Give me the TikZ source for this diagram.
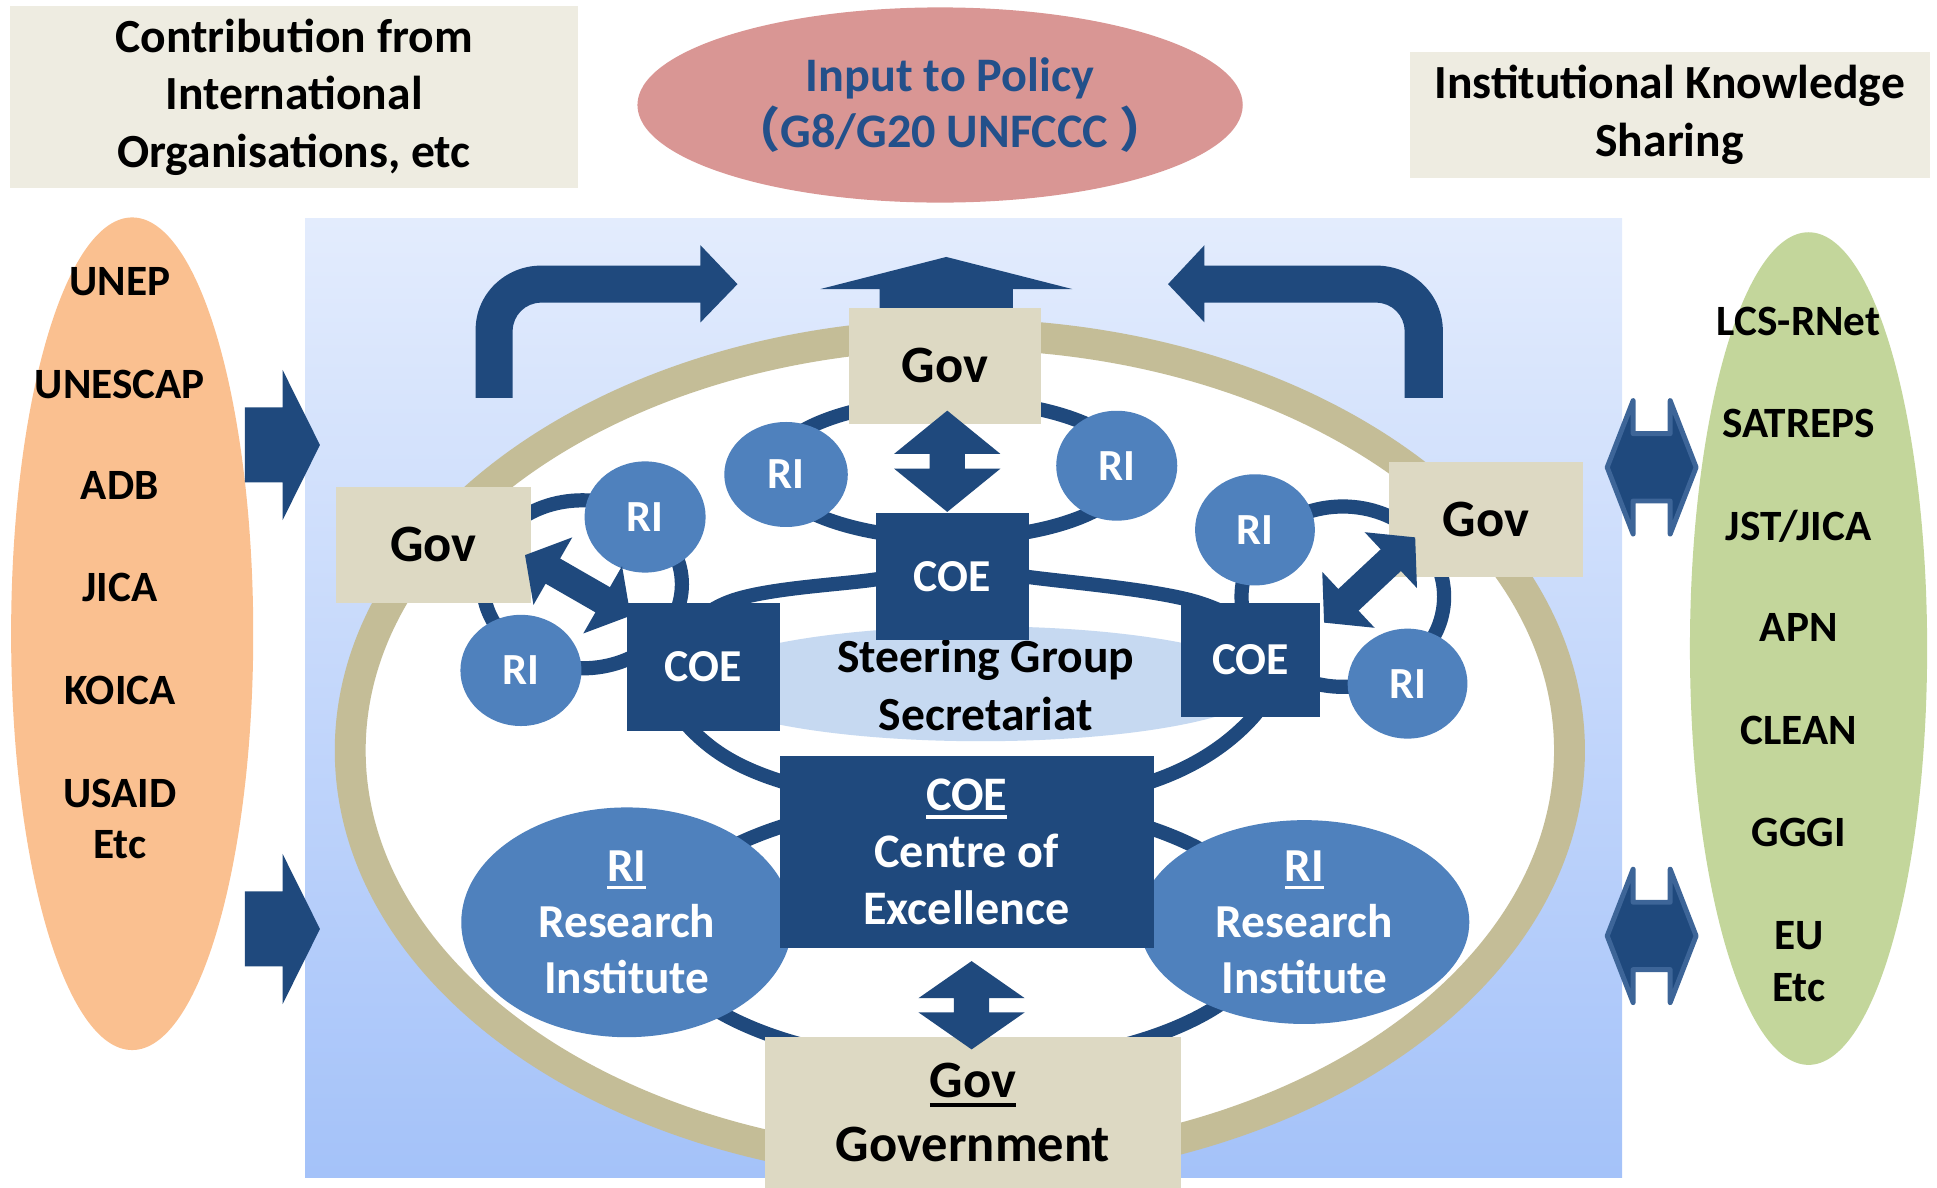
\documentclass[tikz,border=0pt]{standalone}
\usepackage{fontspec}
\setmainfont{Carlito}
\newfontfamily\cjkfont{Noto Sans CJK SC}
\usetikzlibrary{shapes.geometric}
\definecolor{dkblue}{HTML}{1F497D}
\definecolor{riblue}{HTML}{4F81BD}
\definecolor{govbeige}{HTML}{DDD9C3}
\definecolor{lblbox}{HTML}{EEECE1}
\definecolor{tanring}{HTML}{C4BD97}
\definecolor{orangeell}{HTML}{FAC090}
\definecolor{greenell}{HTML}{C3D69B}
\definecolor{pinkell}{HTML}{D99694}
\definecolor{steerblue}{HTML}{C6D9F1}
\definecolor{policyblue}{HTML}{23508A}
\definecolor{gradtop}{HTML}{E3ECFD}
\definecolor{gradbot}{HTML}{A4C2F9}
\definecolor{arrowedge}{HTML}{3D6598}
\newcommand{\ulx}[1]{\setbox0\hbox{#1}\rlap{\rule[-0.17em]{\wd0}{0.075em}}\box0}
% \dblarrow[opts]{cx}{cy}{angle}{L}{head length}{head width}{shaft width}
\newcommand{\dblarrow}[8][]{%
  \begin{scope}[shift={(#2,#3)},rotate=#4]
    \fill[#1] ({-#5/2},0) -- ({-#5/2+#6},{#7/2}) -- ({-#5/2+#6},{#8/2}) -- ({#5/2-#6},{#8/2})
      -- ({#5/2-#6},{#7/2}) -- ({#5/2},0) -- ({#5/2-#6},{-#7/2}) -- ({#5/2-#6},{-#8/2})
      -- ({-#5/2+#6},{-#8/2}) -- ({-#5/2+#6},{-#7/2}) -- cycle;
  \end{scope}}
\begin{document}
\begin{tikzpicture}[x=1pt,y=-1pt,
  txt/.style={font={\bfseries\fontsize{38.5}{46.5}\selectfont}, align=center, inner sep=0pt},
  lblboxs/.style={txt, fill=lblbox},
  govbox/.style={txt, fill=govbeige, font={\bfseries\fontsize{42.5}{52}\selectfont}},
  coebox/.style={txt, fill=dkblue, text=white, font={\bfseries\fontsize{37}{46}\selectfont}},
  riell/.style={txt, ellipse, fill=riblue, text=white, font={\bfseries\fontsize{36}{46}\selectfont}},
  bigri/.style={riell, font={\bfseries\fontsize{38.3}{45.5}\selectfont}},
  sidelbl/.style={txt, anchor=base, font={\bfseries\fontsize{35}{42}\selectfont}},
  ringline/.style={draw=dkblue, line width=11.5pt},
  blockfill/.style={fill=dkblue},
  outlined/.style={fill=dkblue, draw=arrowedge, line width=4pt, line join=round}]
\useasboundingbox (0,0) rectangle (1568,961);

% --- top labels
\node[lblboxs, minimum width=460, minimum height=147] (contrib) at (238,78.5)
  {Contribution from\\International\\Organisations, etc};
\node[ellipse, fill=pinkell, minimum width=490, minimum height=158, inner sep=0pt] (policy) at (761,85) {};
\node[txt, text=policyblue, font={\bfseries\fontsize{39}{46}\selectfont}] (policytxt) at (769,85)
  {Input to Policy\\{\cjkfont （}G8/G20 UNFCCC {\cjkfont ）}};
\node[lblboxs, minimum width=421, minimum height=102] (iks) at (1351.5,93)
  {Institutional Knowledge\\Sharing};

% --- side ellipses
\node[ellipse, fill=orangeell, minimum width=196, minimum height=674, inner sep=0pt] (orgs) at (107,513) {};
\node[ellipse, fill=greenell, minimum width=192, minimum height=674, inner sep=0pt] (nets) at (1464,525) {};
\node[sidelbl] (o1) at (97,239.3) {UNEP};
\node[sidelbl] (o2) at (97,322.3) {UNESCAP};
\node[sidelbl] (o3) at (97,404.3) {ADB};
\node[sidelbl] (o4) at (97,487.3) {JICA};
\node[sidelbl] (o5) at (97,570.3) {KOICA};
\node[sidelbl] (o6) at (97,653.3) {USAID};
\node[sidelbl] (o7) at (97,695.3) {Etc};
\node[sidelbl] (n1) at (1456,271.3) {LCS-RNet};
\node[sidelbl] (n2) at (1456,354.3) {SATREPS};
\node[sidelbl] (n3) at (1456,437.3) {JST/JICA};
\node[sidelbl] (n4) at (1456,519.3) {APN};
\node[sidelbl] (n5) at (1456,602.3) {CLEAN};
\node[sidelbl] (n6) at (1456,685.3) {GGGI};
\node[sidelbl] (n7) at (1456,768.3) {EU};
\node[sidelbl] (n8) at (1456,810.3) {Etc};

% --- central panel
\shade[top color=gradtop, bottom color=gradbot] (247,177) rectangle (1313,953);

% left inflow arrows
\fill[blockfill] (198.3,329.7) -- (228.8,329.7) -- (228.8,299.5) -- (259,360.2) -- (228.8,421) -- (228.8,390.4) -- (198.3,390.4) -- cycle;
\fill[blockfill] (198.3,721.5) -- (228.8,721.5) -- (228.8,691.3) -- (259,752) -- (228.8,812.8) -- (228.8,782.2) -- (198.3,782.2) -- cycle;
% right exchange arrows
\dblarrow[outlined]{1337}{378.3}{0}{72}{21}{108}{54.5}
\dblarrow[outlined]{1337}{757.6}{0}{72}{21}{108}{54.5}

% bent arrows and upward arrow
\fill[blockfill] (385,322) -- (385,267) .. controls (385,238) and (409,215) .. (438,215) -- (567,215) -- (567,198.5)
  -- (597,230) -- (567,261) -- (567,245) -- (438,245) .. controls (425.3,245) and (415,255.3) .. (415,268) -- (415,322) -- cycle;
\fill[blockfill] (1168,322) -- (1168,268) .. controls (1168,238.6) and (1144,215) .. (1114,215) -- (975,215) -- (975,198.5)
  -- (945.5,230) -- (975,261) -- (975,245) -- (1114,245) .. controls (1126.7,245) and (1137,255.3) .. (1137,268) -- (1137,322) -- cycle;
\fill[blockfill] (712,256) -- (712,234) -- (664,234) -- (766,208) -- (868,234) -- (820,234) -- (820,256) -- cycle;

% tan ring
\filldraw[fill=white, draw=tanring, line width=25pt] (777,607.5) ellipse [x radius=493.5pt, y radius=337pt];

% steering ellipse
\node[ellipse, fill=steerblue, minimum width=464, minimum height=93, inner sep=0pt] (steer) at (794,553.5) {};

% dark blue loops
\draw[ringline] (770,380) ellipse [x radius=145pt, y radius=56pt];
\draw[ringline] (471.5,473) ellipse [x radius=80.5pt, y radius=68pt];
\draw[ringline] (1087,483) ellipse [x radius=82pt, y radius=73pt];
\draw[ringline] plot[smooth cycle, tension=0.6] coordinates {(770,461) (832,467) (971,488) (1028,530) (1013,582) (934,632) (782,662) (631,632) (560,591) (540,540) (588,488) (709,469)};
\draw[ringline] (780,755) ellipse [x radius=247pt, y radius=107pt];

\node[txt] (steertxt) at (798,554.5) {Steering Group\\Secretariat};

% RI circles
\node[riell, minimum width=100, minimum height=85] (riTL) at (636.3,384.1) {RI};
\node[riell, minimum width=98, minimum height=89] (riTR) at (904,377) {RI};
\node[riell, minimum width=98, minimum height=90] (riLU) at (522.2,418.5) {RI};
\node[riell, minimum width=98, minimum height=90] (riLL) at (421.7,542.7) {RI};
\node[riell, minimum width=97, minimum height=90] (riRU) at (1015.9,428.9) {RI};
\node[riell, minimum width=97, minimum height=89] (riRL) at (1139.4,553.4) {RI};
\node[bigri, minimum width=268, minimum height=186] (riBL) at (507.4,746.6) {\ulx{RI}\\Research\\Institute};
\node[bigri, minimum width=267, minimum height=165] (riBR) at (1055.9,746.4) {\ulx{RI}\\Research\\Institute};

% COE boxes
\node[coebox, minimum width=123.6, minimum height=103] (coeT) at (770.8,466.5) {COE};
\node[coebox, minimum width=123.5, minimum height=103.5] (coeL) at (569.3,539.8) {COE};
\node[coebox, minimum width=112.6, minimum height=92.5] (coeR) at (1012.3,534.3) {COE};
\node[coebox, minimum width=303, minimum height=155, font={\bfseries\fontsize{39}{46}\selectfont}] (coeB) at (782.5,689.5) {\ulx{COE}\\Centre of\\Excellence};

% Gov boxes
\node[govbox, minimum width=156, minimum height=93.7] (govT) at (765,296.2) {Gov};
\node[govbox, minimum width=158, minimum height=94] (govL) at (350.8,441) {Gov};
\node[govbox, minimum width=157, minimum height=93] (govR) at (1202.7,420.7) {Gov};
\node[govbox, minimum width=337, minimum height=122.5] (govB) at (787.6,900.7) {\ulx{Gov}\\Government};

% double arrows between Gov and COE
\dblarrow[blockfill]{766.8}{373.4}{90}{82}{35}{86}{28.5}
\dblarrow[blockfill]{786.5}{813.75}{90}{71.5}{30}{86}{28.5}
\dblarrow[blockfill]{467.7}{473.9}{-29.9}{98.5}{26}{63}{23.5}
\dblarrow[blockfill]{1108.7}{469.5}{43.1}{101}{27}{62}{24}
\end{tikzpicture}
\end{document}
